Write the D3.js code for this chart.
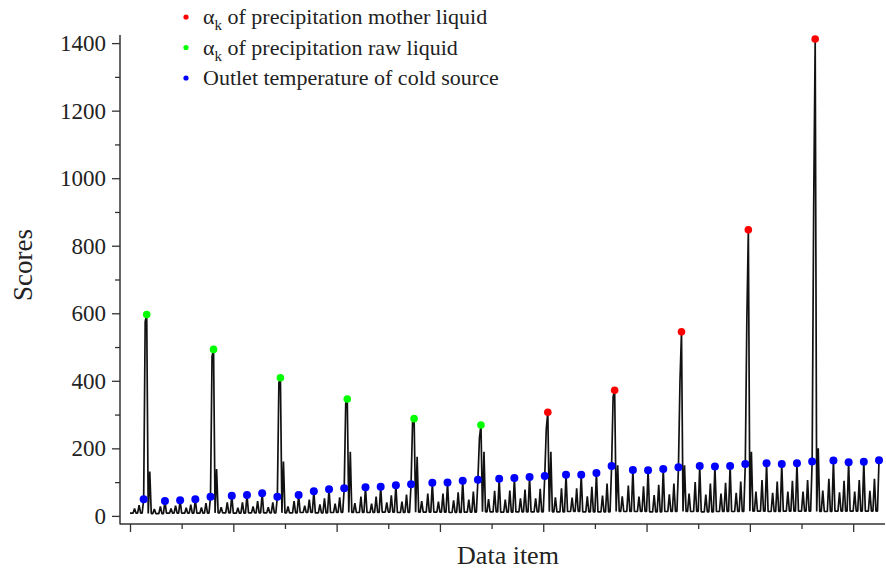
<!DOCTYPE html>
<html>
<head>
<meta charset="utf-8">
<script src="https://cdn.jsdelivr.net/npm/d3@7/dist/d3.min.js"></script>
<style>
body { margin: 0; background: #fff; }
text { font-family: "Liberation Serif", "Times New Roman", serif; fill: #222; }
</style>
</head>
<body>
<div id="chart-area"></div>
<script>
// peaks of each small cycle (blue dots)
var outletTemps = [49,44,46,49, 57,60,62,67, 57,62,73,79, 82,85,86,91, 94,98,99,104,
    107,110,112,115, 118,122,122,127, 148,136,135,139, 144,148,146,148,
    154,156,154,156, 161,164,159,160, 165];
// big spikes
var rawLiquidPeaks = [596, 493, 409, 346, 288, 269];
var motherLiquidPeaks = [307, 372, 545, 847, 1412];
var spikeShoulders = [575, 472, 394, 334, 279, 230, 258, 353, 398, 575, 911];
var spikeTails = [131, 139, 161, 190, 175, 190, 190, 150, 150, 190, 200];
// low parts of each cycle
var troughs = [8,7,8,8, 8,9,8,9, 9,9,10,9, 10,10,10,11, 10,11,11,10, 11,12,11,12,
    12,12,13,12, 12,13,13,12, 13,13,12,13, 13,14,13,14, 14,13,14,14, 14];
var smallBumps = [22,20,22,24, 25,26,24,28, 26,28,30,34, 36,38,36,40, 42,44,42,46,
    48,50,48,52, 52,55,54,58, 60,58,57,62, 64,66,63,66, 68,72,68,72, 72,75,70,72, 74];
var midBumps = [32,28,30,33, 38,40,40,44, 40,44,48,52, 55,57,57,61, 63,66,66,70,
    72,74,75,78, 80,82,82,86, 96,90,88,92, 96,100,96,98, 102,106,102,104, 106,110,104,106, 110];
var yTicks = [0, 200, 400, 600, 800, 1000, 1200, 1400];
var yMinor = [100, 300, 500, 700, 900, 1100, 1300];
var xTicks = [0, 68, 136, 204, 272, 340, 408, 476];
var xMinor = [34, 102, 170, 238, 306, 374, 442];
var legendLabels = ["of precipitation mother liquid", "of precipitation raw liquid", "Outlet temperature of cold source"];

var spikeTops = rawLiquidPeaks.concat(motherLiquidPeaks);

// build the score line, item by item
var scores = [];
var blueIdx = [];
var spikeIdx = [];
var t0 = troughs[0];
scores.push(t0, t0, t0, smallBumps[0], t0, t0, midBumps[0], t0, t0);
blueIdx.push(scores.length);
scores.push(outletTemps[0]);
for (var k = 1; k < outletTemps.length; k++) {
    var t = troughs[k];
    if ((k - 1) % 4 === 0) {
        var s = (k - 1) / 4;
        scores.push(spikeShoulders[s]);
        spikeIdx.push(scores.length);
        scores.push(spikeTops[s], t, spikeTails[s], t, t, smallBumps[k], t, t, t, midBumps[k], t, t);
    } else {
        scores.push(t, t, t, smallBumps[k], t, t, midBumps[k], t, t);
    }
    blueIdx.push(scores.length);
    scores.push(outletTemps[k]);
}

var svg = d3.select("#chart-area")
    .append("svg")
        .attr("width", 886)
        .attr("height", 571);

// X Scale
var x = d3.scaleLinear()
    .domain([0, scores.length - 1])
    .range([130, 879]);

// Y Scale
var y = d3.scaleLinear()
    .domain([-24, 1424])
    .range([524, 35]);

// Y Axis
var yAxisCall = d3.axisLeft(y).tickValues(yTicks).tickSize(8).tickPadding(6)
    .tickFormat(d3.format("d"));
var yAxisGroup = svg.append("g")
    .attr("transform", "translate(120,0)")
    .call(yAxisCall);
yAxisGroup.selectAll("text").attr("font-size", "23px").style("font-family", "Liberation Serif");
svg.append("g")
    .attr("transform", "translate(120,0)")
    .call(d3.axisLeft(y).tickValues(yMinor).tickSize(5).tickFormat(""));

// X Axis
svg.append("g")
    .attr("transform", "translate(0,524)")
    .call(d3.axisBottom(x).tickValues(xTicks).tickSize(8).tickFormat(""));
svg.append("g")
    .attr("transform", "translate(0,524)")
    .call(d3.axisBottom(x).tickValues(xMinor).tickSize(5).tickFormat(""));

svg.selectAll(".domain").remove();
svg.selectAll(".tick line").attr("stroke", "#333").attr("stroke-width", 1.3);

// axis lines
svg.append("line")
    .attr("x1", 120).attr("x2", 120)
    .attr("y1", 35).attr("y2", 524.5)
    .attr("stroke", "#333").attr("stroke-width", 1.5);
svg.append("line")
    .attr("x1", 120).attr("x2", 885)
    .attr("y1", 524).attr("y2", 524)
    .attr("stroke", "#333").attr("stroke-width", 1.5);

// Line
var line = d3.line()
    .x(function(d, i){ return x(i); })
    .y(function(d){ return y(d); });

svg.append("path")
    .datum(scores)
    .attr("fill", "none")
    .attr("stroke", "#111")
    .attr("stroke-width", 1.7)
    .attr("stroke-linejoin", "bevel")
    .attr("d", line);

// Blue dots
svg.selectAll(".blue-dot")
    .data(outletTemps)
    .enter()
    .append("circle")
        .attr("class", "blue-dot")
        .attr("cx", function(d, i){ return x(blueIdx[i]); })
        .attr("cy", function(d){ return y(d); })
        .attr("r", 4)
        .attr("fill", "#0000ff");

// Spike dots
svg.selectAll(".spike-dot")
    .data(spikeTops)
    .enter()
    .append("circle")
        .attr("class", "spike-dot")
        .attr("cx", function(d, i){ return x(spikeIdx[i]); })
        .attr("cy", function(d){ return y(d); })
        .attr("r", 3.8)
        .attr("fill", function(d, i){ return i < rawLiquidPeaks.length ? "#00ff00" : "#ff0000"; });

// Labels
svg.append("text")
    .attr("x", 508)
    .attr("y", 564)
    .attr("font-size", "26px")
    .attr("text-anchor", "middle")
    .text("Data item");

svg.append("text")
    .attr("x", -265)
    .attr("y", 32)
    .attr("font-size", "27px")
    .attr("text-anchor", "middle")
    .attr("transform", "rotate(-90)")
    .text("Scores");

// Legend
var legendColors = ["#ff0000", "#00ff00", "#0000ff"];
var legend = svg.selectAll(".legend")
    .data(legendLabels)
    .enter()
    .append("g")
        .attr("class", "legend")
        .attr("transform", function(d, i){ return "translate(186," + (17 + i * 30.5) + ")"; });

legend.append("circle")
    .attr("r", 2.6)
    .attr("fill", function(d, i){ return legendColors[i]; });

var lt = legend.append("text")
    .attr("x", 17)
    .attr("y", 7)
    .attr("font-size", "22px");
lt.each(function(d, i){
    var t = d3.select(this);
    if (i < 2) {
        t.append("tspan").text("\u03b1");
        t.append("tspan").attr("dy", 6).attr("font-size", "15px").text("k");
        t.append("tspan").attr("dy", -6).text(" " + d);
    } else {
        t.text(d);
    }
});
</script>
</body>
</html>
